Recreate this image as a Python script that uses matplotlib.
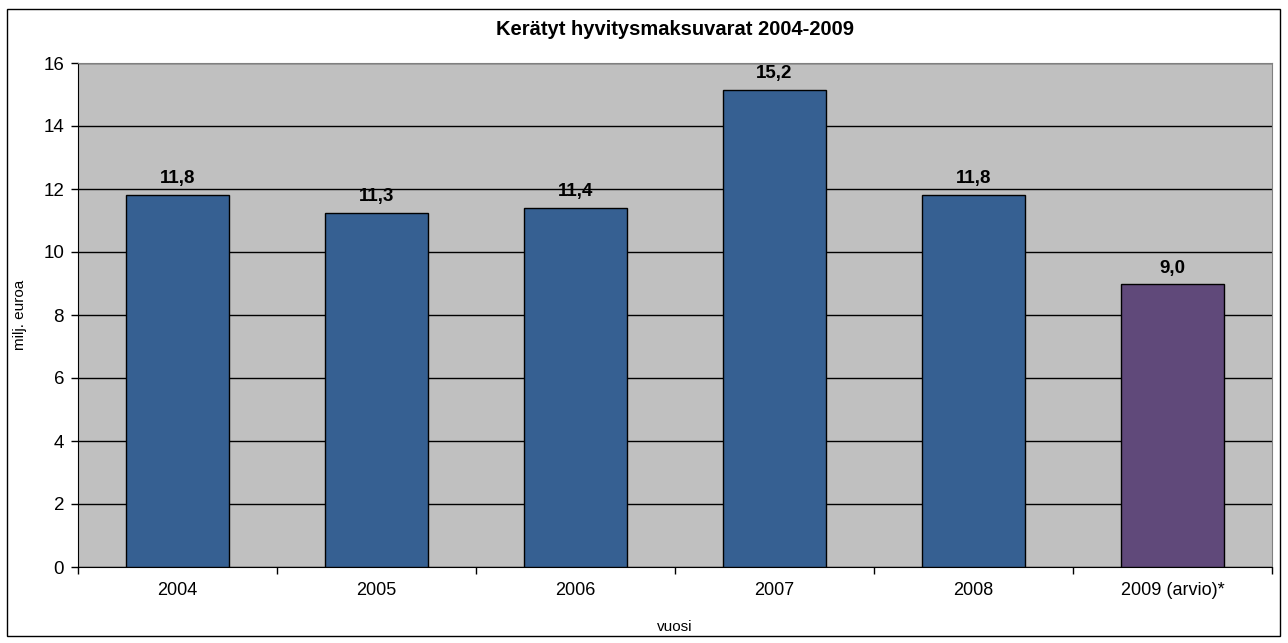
import matplotlib
matplotlib.use("Agg")
import matplotlib.pyplot as plt
from matplotlib.patches import Rectangle
import numpy as np

plt.rcParams['font.family'] = ['Liberation Sans', 'DejaVu Sans']

years = ["2004", "2005", "2006", "2007", "2008", "2009 (arvio)*"]
values = [11.8, 11.25, 11.4, 15.15, 11.8, 8.97]
labels = ["11,8", "11,3", "11,4", "15,2", "11,8", "9,0"]
colors = ["#366092", "#366092", "#366092", "#366092", "#366092", "#60497A"]

fig = plt.figure(figsize=(12.88, 6.43), dpi=100)
fig.patches.append(Rectangle((7 / 1288, 7 / 643), 1273 / 1288, 627 / 643,
                             transform=fig.transFigure, fill=False,
                             edgecolor="black", linewidth=1))
ax = fig.add_axes([78 / 1288, 1 - 567 / 643, 1194 / 1288, 504 / 643])
ax.set_facecolor("#C0C0C0")

x = np.arange(len(years))
ax.bar(x, values, width=0.52, color=colors, edgecolor="black", linewidth=1, zorder=3)
for xi, v, lab in zip(x, values, labels):
    ax.text(xi, v + 0.25, lab, ha="center", va="bottom", fontsize=13.5,
            fontweight="bold", zorder=4)

ax.set_xlim(-0.5, len(years) - 0.5)
ax.set_ylim(0, 16)
ax.set_yticks(np.arange(0, 17, 2))
ax.yaxis.grid(True, color="black", linewidth=1, zorder=1)
ax.set_xticks(x)
ax.set_xticklabels(years, fontsize=13)
ax.tick_params(axis="x", length=0, pad=11)
ax.set_xticks(np.arange(-0.5, len(years)), minor=True)
ax.tick_params(axis="x", which="minor", length=5, width=1)
ax.tick_params(axis="y", labelsize=13.5, length=5, width=1, pad=5)

for s in ["top", "right"]:
    ax.spines[s].set_color("#808080")
for s in ["left", "bottom"]:
    ax.spines[s].set_color("black")

ax.set_xlabel("vuosi", fontsize=11, labelpad=15)
ax.set_ylabel("milj. euroa", fontsize=11, labelpad=12)
ax.set_title("Kerätyt hyvitysmaksuvarat 2004-2009", fontsize=14.5,
             fontweight="bold", pad=20)

fig.savefig("out.png", dpi=100)
